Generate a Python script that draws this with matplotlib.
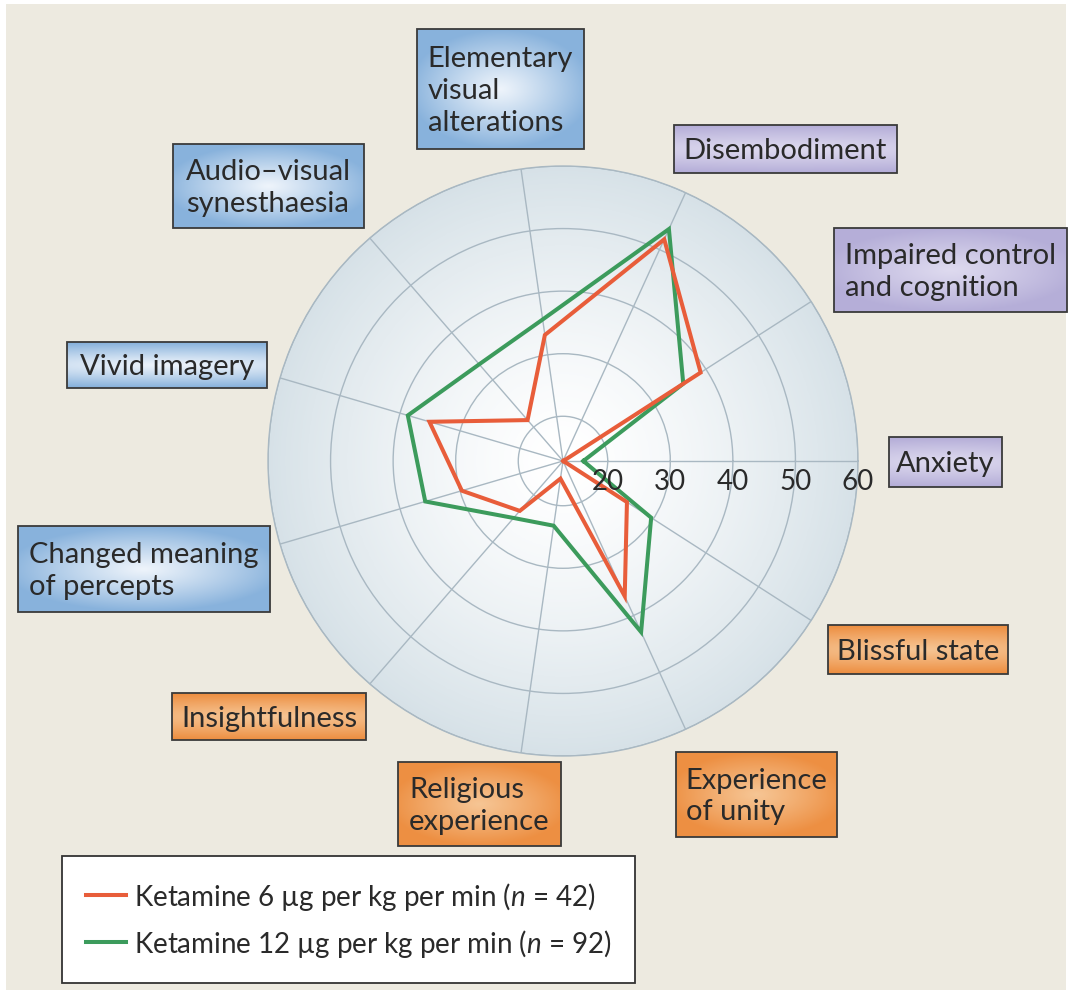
"""
Radar chart of ketamine-induced altered states (two doses)
"""

import matplotlib.pyplot as plt
import numpy as np
from matplotlib.colors import LinearSegmentedColormap
from matplotlib.patches import Rectangle

## Categories, counter-clockwise from 3 o'clock
categories = [
    "Anxiety",
    "Impaired control\nand cognition",
    "Disembodiment",
    "Elementary\nvisual\nalterations",
    "Audio\u2013visual\nsynesthaesia",
    "Vivid imagery",
    "Changed meaning\nof percepts",
    "Insightfulness",
    "Religious\nexperience",
    "Experience\nof unity",
    "Blissful state",
]
groups = ["purple", "purple", "purple", "blue", "blue", "blue", "blue",
          "orange", "orange", "orange", "orange"]

low_dose = [12.9, 39.0, 51.8, 33.2, 21.5, 35.1, 29.7, 23.4, 15.7, 36.6, 25.0]
high_dose = [16.1, 35.7, 53.6, 35.7, 33.3, 38.7, 35.8, 24.9, 23.3, 42.9, 29.6]
series_labels = [
    "Ketamine 6 \u00b5g per kg per min ($n$ = 42)",
    "Ketamine 12 \u00b5g per kg per min ($n$ = 92)",
]
r_ticks = [20, 30, 40, 50, 60]
r_min, r_max = 12.85, 60

## label boxes in pixel coords (x0, y0, x1, y1), same order as categories
boxes = [
    (889, 438, 1002, 488),
    (834, 229, 1067, 313),
    (674, 126, 897, 174),
    (417, 30, 584, 150),
    (173, 145, 364, 229),
    (67, 343, 267, 389),
    (18, 527, 270, 613),
    (172, 694, 366, 741),
    (398, 763, 561, 847),
    (676, 753, 837, 838),
    (828, 626, 1008, 675),
]
box_colors = {
    "blue": ("#88b2dc", "#eef4fb"),
    "purple": ("#b5aed8", "#dedaef"),
    "orange": ("#ed8f42", "#f6c594"),
}

W, H = 1070, 995
RED = "#e85d3a"
GREEN = "#3c9b5c"
GRID = "#a9b8c2"
TEXT = "#2a2a2a"

plt.rcParams["font.family"] = ["Lato", "DejaVu Sans"]
plt.rcParams["mathtext.fontset"] = "custom"
plt.rcParams["mathtext.rm"] = "Lato"
plt.rcParams["mathtext.it"] = "Lato:italic"


def to_rgb(h):
    return np.array([int(h[i:i + 2], 16) for i in (1, 3, 5)]) / 255.0


def box_gradient(edge, center, w, h, kx):
    xx, yy = np.meshgrid(np.linspace(-1, 1, w), np.linspace(-1, 1, h))
    d = np.clip(np.sqrt((kx * xx) ** 2 + yy ** 2), 0, 1) ** 1.1
    e, c = to_rgb(edge), to_rgb(center)
    return c[None, None, :] + (e - c)[None, None, :] * d[..., None]


def plot_data() -> None:
    fig = plt.figure(figsize=(W / 100, H / 100), dpi=100)
    fig.patch.set_facecolor("white")
    fig.add_artist(Rectangle((6 / W, 1 - 991 / H), 1060 / W, 986 / H,
                             transform=fig.transFigure, facecolor="#edeae0",
                             edgecolor="none", zorder=-5))

    # polar axes: centre (563, 462), radius 295 px
    cx, cy, rad = 563, 462, 295
    ax = fig.add_axes([(cx - rad) / W, 1 - (cy + rad) / H, 2 * rad / W, 2 * rad / H],
                      projection="polar")
    ax.set_facecolor("none")
    n = len(categories)
    theta = np.arange(n) * 2 * np.pi / n

    # radial gradient background
    tg = np.linspace(0, 2 * np.pi, 361)
    rg = np.linspace(r_min, r_max, 120)
    t = ((rg[:-1] + rg[1:]) / 2 - r_min) / (r_max - r_min)
    shade = np.tile(t[:, None] ** 1.4, (1, 360))
    cmap = LinearSegmentedColormap.from_list("bg", ["#ffffff", "#d6e1e7"])
    ax.pcolormesh(tg, rg, shade, cmap=cmap, vmin=0, vmax=1, shading="flat",
                  rasterized=True, zorder=0)

    ax.set_ylim(r_min, r_max)
    ax.set_yticks(r_ticks)
    ax.set_yticklabels([])
    ax.set_xticks(theta)
    ax.set_xticklabels([])
    ax.tick_params(length=0)
    ax.grid(True, color=GRID, linewidth=1.0)
    ax.spines["polar"].set_color(GRID)
    ax.spines["polar"].set_linewidth(1.0)

    for v in r_ticks:
        ax.annotate(str(v), xy=(0, v), xytext=(0, -5), textcoords="offset points",
                    ha="center", va="top", fontsize=20, color=TEXT,
                    annotation_clip=False, zorder=5)

    tc = np.append(theta, theta[0])
    lines = []
    for vals, col, z in [(high_dose, GREEN, 3), (low_dose, RED, 4)]:
        (ln,) = ax.plot(tc, vals + vals[:1], color=col, linewidth=2.9,
                        solid_joinstyle="miter", zorder=z)
        lines.append(ln)

    # overlay axes in pixel coords for the label boxes
    ov = fig.add_axes([0, 0, 1, 1])
    ov.axis("off")
    ov.patch.set_alpha(0)
    for label, grp, (x0, y0, x1, y1) in zip(categories, groups, boxes):
        edge, center = box_colors[grp]
        kx = 0.9 if "\n" in label else 0.3
        img = box_gradient(edge, center, int(x1 - x0), int(y1 - y0), kx)
        ov.imshow(img, extent=(x0, x1, y1, y0), aspect="auto", zorder=1)
        ov.add_patch(Rectangle((x0, y0), x1 - x0, y1 - y0, fill=False,
                               edgecolor="#3a3a3a", linewidth=1.3, zorder=2))
        ov.text((x0 + x1) / 2, (y0 + y1) / 2 + 1, label, ha="center", va="center",
                multialignment="left", fontsize=21, color=TEXT, linespacing=1.28,
                zorder=3)
    ov.set_xlim(0, W)
    ov.set_ylim(H, 0)

    leg = fig.legend(lines[::-1], series_labels, loc="upper left",
                     bbox_to_anchor=(62 / W, 1 - 857 / H), borderaxespad=0,
                     fontsize=20, frameon=True, fancybox=False,
                     handlelength=1.45, handletextpad=0.3, borderpad=0.85,
                     labelspacing=0.55)
    leg.get_frame().set_edgecolor("#333333")
    leg.get_frame().set_linewidth(1.3)
    leg.get_frame().set_facecolor("white")
    leg.get_frame().set_alpha(1)
    for t_ in leg.get_texts():
        t_.set_color(TEXT)

    fig.savefig("out.png", dpi=100)


if __name__ == "__main__":
    plot_data()
